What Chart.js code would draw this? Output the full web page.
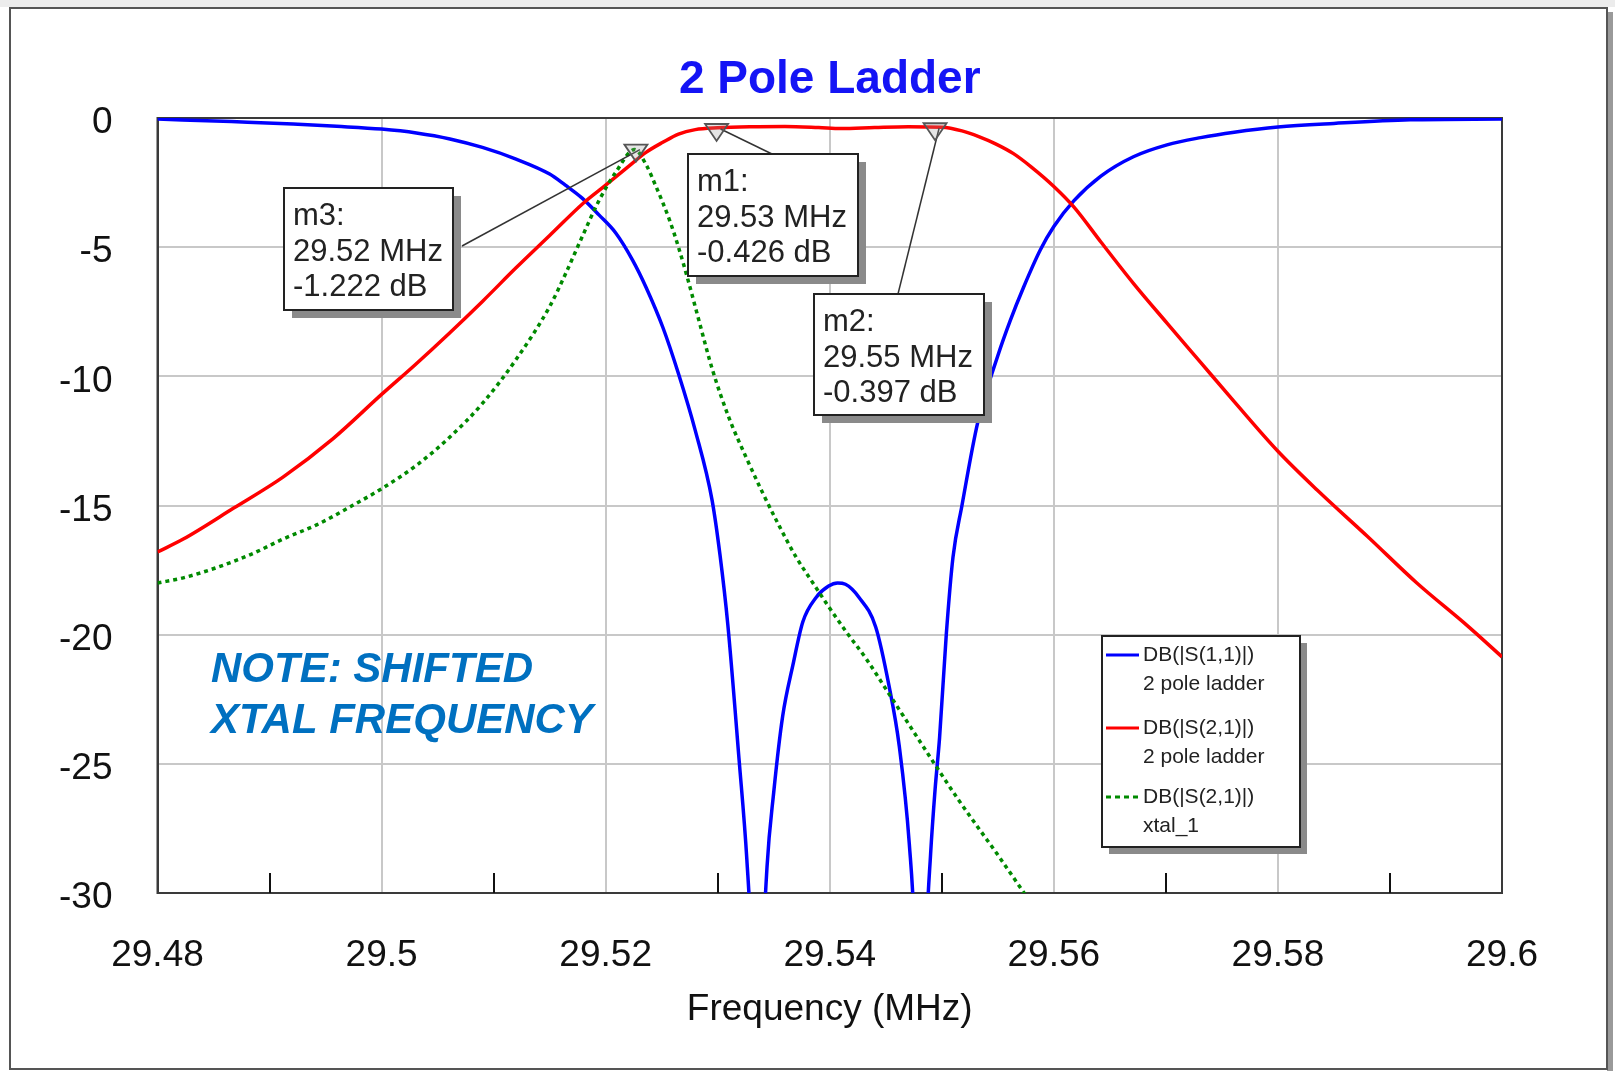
<!DOCTYPE html>
<html>
<head>
<meta charset="utf-8">
<script src="https://cdn.jsdelivr.net/npm/chart.js@4.4.1/dist/chart.umd.min.js"></script>
<style>
html,body{margin:0;padding:0;background:#fff;}
#wrap{width:1615px;height:1071px;position:relative;}
</style>
</head>
<body>
<div id="wrap"><canvas id="c" width="1615" height="1071"></canvas></div>
<script>
// ---------------- DATA ----------------
const chartTitle = '2 Pole Ladder';
const xAxisTitle = 'Frequency (MHz)';
const xTickValues = [29.48, 29.50, 29.52, 29.54, 29.56, 29.58, 29.60];
const xTickLabels = ['29.48', '29.5', '29.52', '29.54', '29.56', '29.58', '29.6'];
const xMinorTicks = [29.49, 29.51, 29.53, 29.55, 29.57, 29.59];
const yTickValues = [0, -5, -10, -15, -20, -25, -30];
const yTickLabels = ['0', '-5', '-10', '-15', '-20', '-25', '-30'];

// DB(|S(1,1)|) 2 pole ladder
const s11Freq = [29.4800, 29.4866, 29.4921, 29.4960, 29.5000, 29.5031, 29.5061, 29.5090, 29.5120, 29.5150,
  29.5164, 29.5179, 29.5194, 29.5209, 29.5224, 29.5236, 29.5251, 29.5265, 29.5280, 29.5295,
  29.5302, 29.5309, 29.5319, 29.5326, 29.5331, 29.5336, 29.5340, 29.5344, 29.5350, 29.5358,
  29.5367, 29.5376, 29.5388, 29.5399, 29.5407, 29.5414, 29.5426, 29.5441, 29.5453, 29.5462,
  29.5471, 29.5476, 29.5481, 29.5486, 29.5490, 29.5494, 29.5498, 29.5504, 29.5510, 29.5518,
  29.5532, 29.5550, 29.5561, 29.5573, 29.5588, 29.5600, 29.5618, 29.5642, 29.5671, 29.5701,
  29.5731, 29.5761, 29.5800, 29.5850, 29.5918, 29.6000];
const s11dB = [-0.04, -0.14, -0.23, -0.32, -0.43, -0.58, -0.81, -1.14, -1.59, -2.17,
  -2.60, -3.10, -3.75, -4.45, -5.50, -6.55, -8.10, -9.90, -12.1, -14.8,
  -16.9, -19.6, -24.8, -28.7, -33.0, -42.0, -33.0, -29.0, -26.1, -23.15,
  -21.2, -19.5, -18.55, -18.12, -18.0, -18.05, -18.55, -19.7, -22.0, -24.3,
  -28.1, -32.0, -42.0, -32.0, -28.5, -26.0, -24.0, -20.0, -17.0, -15.0,
  -11.8, -9.2, -7.85, -6.55, -5.1, -4.2, -3.2, -2.25, -1.5, -1.04,
  -0.76, -0.55, -0.35, -0.21, -0.07, -0.04];

// DB(|S(2,1)|) 2 pole ladder
const s21Freq = [29.4800, 29.4823, 29.4868, 29.4912, 29.4957, 29.5000, 29.5030, 29.5060, 29.5090, 29.5120,
  29.5150, 29.5180, 29.5200, 29.5221, 29.5236, 29.5251, 29.5265, 29.5280, 29.5300, 29.5330,
  29.5360, 29.5390, 29.5410, 29.5440, 29.5470, 29.5500, 29.5518, 29.5533, 29.5548, 29.5564,
  29.5580, 29.5600, 29.5618, 29.5642, 29.5671, 29.5701, 29.5731, 29.5761, 29.5800, 29.5835,
  29.5880, 29.5924, 29.5969, 29.6000];
const s21dB = [-16.8, -16.3, -15.1, -13.9, -12.4, -10.7, -9.55, -8.35, -7.1, -5.8,
  -4.55, -3.3, -2.6, -1.85, -1.33, -0.94, -0.62, -0.45, -0.38, -0.34,
  -0.33, -0.37, -0.41, -0.37, -0.34, -0.36, -0.5, -0.72, -1.0, -1.38,
  -1.9, -2.65, -3.45, -4.8, -6.4, -7.94, -9.46, -10.98, -12.9, -14.4,
  -16.2, -18.0, -19.65, -20.86];

// DB(|S(2,1)|) xtal_1
const xtalFreq = [29.4800, 29.4823, 29.4853, 29.4883, 29.4912, 29.4942, 29.4972, 29.5000, 29.5031, 29.5061,
  29.5090, 29.5120, 29.5150, 29.5164, 29.5179, 29.5194, 29.5209, 29.5226, 29.5236, 29.5245,
  29.5257, 29.5265, 29.5274, 29.5283, 29.5295, 29.5310, 29.5325, 29.5340, 29.5355, 29.5370,
  29.5385, 29.5398, 29.5414, 29.5432, 29.5453, 29.5474, 29.5495, 29.5515, 29.5533, 29.5552,
  29.5575];
const xtalDB = [-18.0, -17.8, -17.4, -16.9, -16.3, -15.75, -15.05, -14.35, -13.45, -12.35,
  -11.05, -9.35, -7.3, -6.05, -4.6, -3.2, -2.1, -1.222, -1.8, -2.66,
  -3.95, -5.0, -6.35, -7.8, -9.7, -11.6, -13.1, -14.5, -15.8, -17.0,
  -18.0, -18.85, -19.85, -20.9, -22.3, -23.7, -25.1, -26.4, -27.5, -28.65,
  -30.1];

const seriesLabels = [
  ['DB(|S(1,1)|)', '2 pole ladder'],
  ['DB(|S(2,1)|)', '2 pole ladder'],
  ['DB(|S(2,1)|)', 'xtal_1']
];
const seriesColors = ['#0000ff', '#ff0000', '#008a00'];

const markerNames = ['m1', 'm2', 'm3'];
const markerFreqs = [29.5299, 29.5494, 29.5227];
const markerFreqLabels = ['29.53', '29.55', '29.52'];
const markerDB = [-0.426, -0.397, -1.222];

const noteLines = ['NOTE: SHIFTED', 'XTAL FREQUENCY'];

// ---------------- LAYOUT (pixels) ----------------
const FONT = "'Liberation Sans', Arial, Helvetica, sans-serif";
const LAYOUT = {
  frame: { x: 10, y: 8, w: 1597, h: 1061 },
  boxes: [
    { x: 688, y: 154, w: 170, h: 122, ax: 772, ay: 154 },
    { x: 814, y: 294, w: 170, h: 121, ax: 898, ay: 294 },
    { x: 284, y: 188, w: 169, h: 122, ax: 462, ay: 246 }
  ],
  legend: { x: 1102, y: 636, w: 198, h: 211, rows: [655, 728, 797], gap: 29, l0: 1106, l1: 1139, tx: 1143 },
  note: { x: 211, y: [682, 733] }
};

function pts(xs, ys) { return xs.map((x, i) => ({ x: x, y: ys[i] })); }

const deco = {
  id: 'deco',
  beforeDraw(chart) {
    const c = chart.ctx, F = LAYOUT.frame;
    c.save();
    c.fillStyle = '#ffffff';
    c.fillRect(0, 0, chart.width, chart.height);
    c.fillStyle = '#ececec';
    c.fillRect(0, 0, chart.width, F.y - 1);
    c.fillStyle = '#9a9a9a';
    c.fillRect(F.x + F.w, F.y + 4, 6, F.h);
    c.strokeStyle = '#555';
    c.lineWidth = 2;
    c.strokeRect(F.x, F.y, F.w, F.h);
    c.restore();
  },
  beforeDatasetsDraw(chart) {
    const c = chart.ctx, a = chart.chartArea;
    c.save();
    c.strokeStyle = '#3a3a3a';
    c.lineWidth = 2;
    c.strokeRect(a.left, a.top, a.right - a.left, a.bottom - a.top);
    const xs = chart.scales.x;
    c.strokeStyle = '#111';
    c.lineWidth = 2;
    xMinorTicks.forEach(v => {
      const px = Math.round(xs.getPixelForValue(v));
      c.beginPath();
      c.moveTo(px, a.bottom);
      c.lineTo(px, a.bottom - 20);
      c.stroke();
    });
    c.restore();
  },
  afterDatasetsDraw(chart) {
    const c = chart.ctx, xs = chart.scales.x, ys = chart.scales.y;
    c.save();
    markerNames.forEach((n, i) => {
      const px = xs.getPixelForValue(markerFreqs[i]);
      const py = ys.getPixelForValue(markerDB[i]);
      const b = LAYOUT.boxes[i];
      c.strokeStyle = '#333';
      c.lineWidth = 1.5;
      c.beginPath();
      c.moveTo(b.ax, b.ay);
      c.lineTo(px + 4, py);
      c.stroke();
    });
    markerNames.forEach((n, i) => {
      const px = xs.getPixelForValue(markerFreqs[i]);
      const py = ys.getPixelForValue(markerDB[i]);
      c.beginPath();
      c.moveTo(px - 11.5, py - 5);
      c.lineTo(px + 11.5, py - 5);
      c.lineTo(px, py + 12);
      c.closePath();
      c.fillStyle = 'rgba(150,150,150,0.25)';
      c.fill();
      c.strokeStyle = '#555';
      c.lineWidth = 1.8;
      c.stroke();
    });
    markerNames.forEach((n, i) => {
      const b = LAYOUT.boxes[i];
      c.fillStyle = '#8a8a8a';
      c.fillRect(b.x + 8, b.y + 8, b.w, b.h);
      c.fillStyle = '#ffffff';
      c.fillRect(b.x, b.y, b.w, b.h);
      c.strokeStyle = '#222';
      c.lineWidth = 2;
      c.strokeRect(b.x, b.y, b.w, b.h);
      c.fillStyle = '#222';
      c.font = '31px ' + FONT;
      c.textAlign = 'left';
      c.textBaseline = 'alphabetic';
      const lines = [n + ':', markerFreqLabels[i] + ' MHz', markerDB[i].toFixed(3) + ' dB'];
      lines.forEach((t, k) => c.fillText(t, b.x + 9, b.y + 37 + k * 35.5));
    });
    const L = LAYOUT.legend;
    c.fillStyle = '#8a8a8a';
    c.fillRect(L.x + 7, L.y + 7, L.w, L.h);
    c.fillStyle = '#ffffff';
    c.fillRect(L.x, L.y, L.w, L.h);
    c.strokeStyle = '#222';
    c.lineWidth = 2;
    c.strokeRect(L.x, L.y, L.w, L.h);
    seriesLabels.forEach((lab, i) => {
      const y = L.rows[i];
      c.strokeStyle = seriesColors[i];
      c.lineWidth = 3;
      c.setLineDash(i === 2 ? [5, 4] : []);
      c.beginPath();
      c.moveTo(L.l0, y);
      c.lineTo(L.l1, y);
      c.stroke();
      c.setLineDash([]);
      c.fillStyle = '#222';
      c.font = '21px ' + FONT;
      c.textAlign = 'left';
      c.textBaseline = 'middle';
      c.fillText(lab[0], L.tx, y);
      c.fillText(lab[1], L.tx, y + L.gap);
    });
    c.fillStyle = '#0070c0';
    c.font = 'italic bold 42px ' + FONT;
    c.textAlign = 'left';
    c.textBaseline = 'alphabetic';
    noteLines.forEach((t, k) => c.fillText(t, LAYOUT.note.x, LAYOUT.note.y[k]));
    c.restore();
  }
};

new Chart(document.getElementById('c'), {
  type: 'line',
  data: {
    datasets: [
      { label: seriesLabels[0].join(' '), data: pts(s11Freq, s11dB), borderColor: seriesColors[0], borderWidth: 3.5, order: 3 },
      { label: seriesLabels[1].join(' '), data: pts(s21Freq, s21dB), borderColor: seriesColors[1], borderWidth: 3.5, order: 2 },
      { label: seriesLabels[2].join(' '), data: pts(xtalFreq, xtalDB), borderColor: seriesColors[2], borderWidth: 3.5, borderDash: [4, 4], order: 1 }
    ]
  },
  options: {
    responsive: false,
    animation: false,
    devicePixelRatio: 1,
    elements: {
      point: { radius: 0, hoverRadius: 0 },
      line: { cubicInterpolationMode: 'monotone', fill: false }
    },
    layout: { padding: { left: 0, right: 113, top: 0, bottom: 0 } },
    plugins: {
      legend: { display: false },
      tooltip: { enabled: false },
      title: {
        display: true,
        text: chartTitle,
        fullSize: false,
        color: '#1414f5',
        font: { family: FONT, size: 46, weight: 'bold', lineHeight: 1.2 },
        padding: { top: 52.9, bottom: 9.9 }
      }
    },
    scales: {
      x: {
        type: 'linear',
        min: 29.48,
        max: 29.60,
        afterFit: s => { s.height = 178; },
        afterBuildTicks: s => { s.ticks = xTickValues.map(v => ({ value: v })); },
        ticks: {
          autoSkip: false,
          maxRotation: 0,
          padding: 41,
          color: '#111',
          font: { family: FONT, size: 37, lineHeight: 1.2 },
          callback: (v, i) => xTickLabels[i]
        },
        grid: { color: '#c8c8c8', lineWidth: 2, drawTicks: false },
        border: { display: true, color: '#3a3a3a', width: 2 },
        title: {
          display: true,
          text: xAxisTitle,
          color: '#111',
          font: { family: FONT, size: 37, lineHeight: 1.2 },
          padding: { top: 0, bottom: 39 }
        }
      },
      y: {
        type: 'linear',
        min: -30,
        max: 0,
        afterFit: s => { s.width = 157.5; },
        afterBuildTicks: s => { s.ticks = yTickValues.map(v => ({ value: v })); },
        ticks: {
          autoSkip: false,
          padding: 45,
          labelOffset: 5,
          color: '#111',
          font: { family: FONT, size: 37, lineHeight: 1.2 },
          callback: (v, i) => yTickLabels[i]
        },
        grid: { color: '#c8c8c8', lineWidth: 2, drawTicks: false },
        border: { display: true, color: '#3a3a3a', width: 2 }
      }
    }
  },
  plugins: [deco]
});
</script>
</body>
</html>
